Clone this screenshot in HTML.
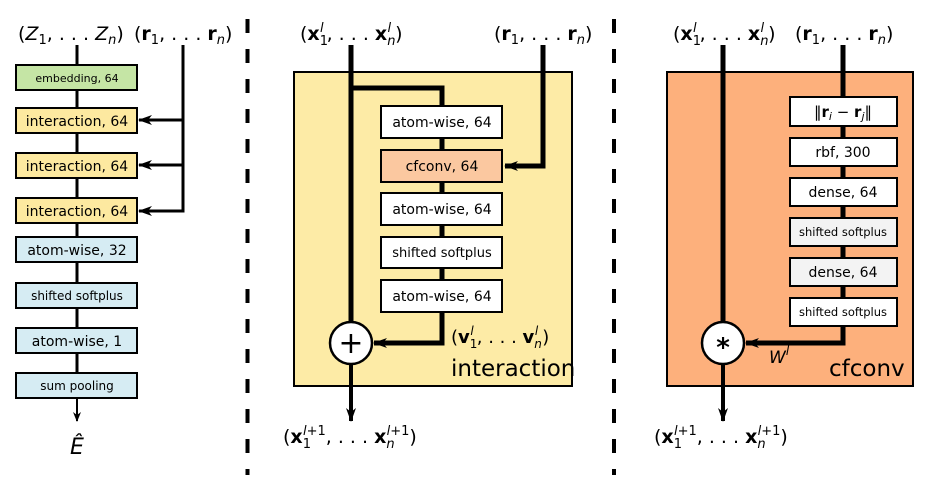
<!DOCTYPE html>
<html><head><meta charset="utf-8"><style>
body{margin:0;background:#fff}
text{font-family:"DejaVu Sans","Liberation Sans",sans-serif;fill:#000}
</style></head><body>
<svg width="929" height="475" viewBox="0 0 929 475" xmlns="http://www.w3.org/2000/svg">
<defs>
<marker id="a" markerWidth="14" markerHeight="10" refX="13" refY="5" orient="auto" markerUnits="userSpaceOnUse"><path d="M0,0 L14,5 L0,10 L4,5 Z" fill="#000"/></marker>
<marker id="b" markerWidth="10" markerHeight="8" refX="9" refY="4" orient="auto" markerUnits="userSpaceOnUse"><path d="M0,0 L10,4 L0,8 L3,4 Z" fill="#000"/></marker>
</defs>
<line x1="247.5" y1="19" x2="247.5" y2="475" stroke="#000" stroke-width="4" stroke-dasharray="14,16"/>
<line x1="614" y1="19" x2="614" y2="475" stroke="#000" stroke-width="4" stroke-dasharray="14,16"/>

<!-- LEFT PANEL -->
<text x="18" y="40" font-size="19">(<tspan font-style="italic">Z</tspan><tspan font-size="13" dy="4">1</tspan><tspan dy="-4">, . . . </tspan><tspan font-style="italic">Z</tspan><tspan font-size="13" dy="4" font-style="italic">n</tspan><tspan dy="-4">)</tspan></text>
<text x="134" y="40" font-size="19">(<tspan font-weight="bold">r</tspan><tspan font-size="13" dy="4">1</tspan><tspan dy="-4">, . . . </tspan><tspan font-weight="bold">r</tspan><tspan font-size="13" dy="4" font-style="italic">n</tspan><tspan dy="-4">)</tspan></text>
<line x1="77" y1="45" x2="77" y2="397" stroke="#000" stroke-width="3"/>
<line x1="77" y1="397" x2="77" y2="421" stroke="#000" stroke-width="2" marker-end="url(#b)"/>
<polyline points="183,45 183,211 139,211" fill="none" stroke="#000" stroke-width="3" marker-end="url(#a)"/>
<line x1="183" y1="120" x2="139" y2="120" stroke="#000" stroke-width="3" marker-end="url(#a)"/>
<line x1="183" y1="165" x2="139" y2="165" stroke="#000" stroke-width="3" marker-end="url(#a)"/>
<g stroke="#000" stroke-width="2">
<rect x="16" y="65" width="121" height="25" fill="#c5e5a5"/>
<rect x="16" y="108" width="121" height="25" fill="#fde9a0"/>
<rect x="16" y="153" width="121" height="25" fill="#fde9a0"/>
<rect x="16" y="198" width="121" height="25" fill="#fde9a0"/>
<rect x="16" y="237" width="121" height="25" fill="#d6ecf3"/>
<rect x="16" y="283" width="121" height="25" fill="#d6ecf3"/>
<rect x="16" y="328" width="121" height="25" fill="#d6ecf3"/>
<rect x="16" y="373" width="121" height="25" fill="#d6ecf3"/>
</g>
<g text-anchor="middle">
<text x="77" y="82" font-size="11">embedding, 64</text>
<text x="77" y="126" font-size="14">interaction, 64</text>
<text x="77" y="171" font-size="14">interaction, 64</text>
<text x="77" y="216" font-size="14">interaction, 64</text>
<text x="77" y="255" font-size="14">atom-wise, 32</text>
<text x="77" y="300" font-size="12">shifted softplus</text>
<text x="77" y="346" font-size="14">atom-wise, 1</text>
<text x="77" y="390" font-size="12">sum pooling</text>
<text x="77" y="454" font-size="22" font-style="italic">Ê</text>
</g>

<!-- MIDDLE PANEL -->
<rect x="294" y="72" width="278" height="314" fill="#fdeba6" stroke="#000" stroke-width="2"/>
<text x="300" y="40" font-size="19">(<tspan font-weight="bold">x</tspan><tspan font-size="13" dy="5">1</tspan><tspan font-size="13" dx="-8" dy="-13" font-style="italic">l</tspan><tspan dy="8" dx="3">, . . . </tspan><tspan font-weight="bold">x</tspan><tspan font-size="13" dy="5" font-style="italic">n</tspan><tspan font-size="13" dx="-8" dy="-13" font-style="italic">l</tspan><tspan dy="8" dx="4">)</tspan></text>
<text x="494" y="40" font-size="19">(<tspan font-weight="bold">r</tspan><tspan font-size="13" dy="4">1</tspan><tspan dy="-4">, . . . </tspan><tspan font-weight="bold">r</tspan><tspan font-size="13" dy="4" font-style="italic">n</tspan><tspan dy="-4">)</tspan></text>
<line x1="351" y1="45" x2="351" y2="322" stroke="#000" stroke-width="5"/>
<line x1="351" y1="364" x2="351" y2="421" stroke="#000" stroke-width="4" marker-end="url(#a)"/>
<polyline points="351,88 442,88 442,106" fill="none" stroke="#000" stroke-width="5"/>
<line x1="442" y1="138" x2="442" y2="280" stroke="#000" stroke-width="5"/>
<polyline points="442,312 442,343 374,343" fill="none" stroke="#000" stroke-width="5" marker-end="url(#a)"/>
<polyline points="543,45 543,166 505,166" fill="none" stroke="#000" stroke-width="5" marker-end="url(#a)"/>
<g stroke="#000" stroke-width="2">
<rect x="381" y="106" width="121" height="32" fill="#fff"/>
<rect x="381" y="150" width="121" height="32" fill="#fbc8a0"/>
<rect x="381" y="193" width="121" height="32" fill="#fff"/>
<rect x="381" y="237" width="121" height="31" fill="#fff"/>
<rect x="381" y="280" width="121" height="32" fill="#fff"/>
<circle cx="351" cy="343" r="21" fill="#fff" stroke-width="2.5"/>
</g>
<g text-anchor="middle" font-size="14">
<text x="442" y="127">atom-wise, 64</text>
<text x="442" y="171">cfconv, 64</text>
<text x="442" y="214">atom-wise, 64</text>
<text x="442" y="257" font-size="13">shifted softplus</text>
<text x="442" y="301">atom-wise, 64</text>
<text x="351" y="353" font-size="30">+</text>
</g>
<text x="451" y="343" font-size="18">(<tspan font-weight="bold">v</tspan><tspan font-size="12" dy="5">1</tspan><tspan font-size="12" dx="-7" dy="-13" font-style="italic">l</tspan><tspan dy="8" dx="3">, . . . </tspan><tspan font-weight="bold">v</tspan><tspan font-size="12" dy="5" font-style="italic">n</tspan><tspan font-size="12" dx="-7" dy="-13" font-style="italic">l</tspan><tspan dy="8" dx="4">)</tspan></text>
<text x="451" y="376" font-size="23">interaction</text>
<text x="283" y="443" font-size="19">(<tspan font-weight="bold">x</tspan><tspan font-size="13" dy="5">1</tspan><tspan font-size="13" dx="-8" dy="-13" font-style="italic">l</tspan><tspan font-size="13">+1</tspan><tspan dy="8">, . . . </tspan><tspan font-weight="bold">x</tspan><tspan font-size="13" dy="5" font-style="italic">n</tspan><tspan font-size="13" dx="-8" dy="-13" font-style="italic">l</tspan><tspan font-size="13">+1</tspan><tspan dy="8">)</tspan></text>

<!-- RIGHT PANEL -->
<rect x="667" y="72" width="246" height="314" fill="#fdb07c" stroke="#000" stroke-width="2"/>
<text x="673" y="40" font-size="19">(<tspan font-weight="bold">x</tspan><tspan font-size="13" dy="5">1</tspan><tspan font-size="13" dx="-8" dy="-13" font-style="italic">l</tspan><tspan dy="8" dx="3">, . . . </tspan><tspan font-weight="bold">x</tspan><tspan font-size="13" dy="5" font-style="italic">n</tspan><tspan font-size="13" dx="-8" dy="-13" font-style="italic">l</tspan><tspan dy="8" dx="4">)</tspan></text>
<text x="795" y="40" font-size="19">(<tspan font-weight="bold">r</tspan><tspan font-size="13" dy="4">1</tspan><tspan dy="-4">, . . . </tspan><tspan font-weight="bold">r</tspan><tspan font-size="13" dy="4" font-style="italic">n</tspan><tspan dy="-4">)</tspan></text>
<line x1="723" y1="45" x2="723" y2="322" stroke="#000" stroke-width="5"/>
<line x1="723" y1="364" x2="723" y2="421" stroke="#000" stroke-width="4" marker-end="url(#a)"/>
<line x1="843" y1="45" x2="843" y2="298" stroke="#000" stroke-width="5"/>
<polyline points="843,326 843,343 746,343" fill="none" stroke="#000" stroke-width="5" marker-end="url(#a)"/>
<g stroke="#000" stroke-width="2">
<rect x="790" y="97" width="107" height="29" fill="#fff"/>
<rect x="790" y="138" width="107" height="28" fill="#fff"/>
<rect x="790" y="178" width="107" height="28" fill="#fff"/>
<rect x="790" y="218" width="107" height="28" fill="#f3f3f3"/>
<rect x="790" y="258" width="107" height="28" fill="#f3f3f3"/>
<rect x="790" y="298" width="107" height="28" fill="#fff"/>
<circle cx="723" cy="343" r="21" fill="#fff" stroke-width="2.5"/>
</g>
<g text-anchor="middle" font-size="14">
<text x="843" y="117" font-size="15">‖<tspan font-weight="bold">r</tspan><tspan font-size="11" font-style="italic" dy="3">i</tspan><tspan dy="-3"> − </tspan><tspan font-weight="bold">r</tspan><tspan font-size="11" font-style="italic" dy="3">j</tspan><tspan dy="-3">‖</tspan></text>
<text x="843" y="157">rbf, 300</text>
<text x="843" y="197">dense, 64</text>
<text x="843" y="236" font-size="11.5">shifted softplus</text>
<text x="843" y="277">dense, 64</text>
<text x="843" y="316" font-size="11.5">shifted softplus</text>
<text x="723" y="356" font-size="26" font-weight="bold">*</text>
</g>
<text x="769" y="363" font-size="17" font-style="italic">W<tspan font-size="12" dy="-8">l</tspan></text>
<text x="829" y="376" font-size="23">cfconv</text>
<text x="654" y="443" font-size="19">(<tspan font-weight="bold">x</tspan><tspan font-size="13" dy="5">1</tspan><tspan font-size="13" dx="-8" dy="-13" font-style="italic">l</tspan><tspan font-size="13">+1</tspan><tspan dy="8">, . . . </tspan><tspan font-weight="bold">x</tspan><tspan font-size="13" dy="5" font-style="italic">n</tspan><tspan font-size="13" dx="-8" dy="-13" font-style="italic">l</tspan><tspan font-size="13">+1</tspan><tspan dy="8">)</tspan></text>
</svg>
</body></html>
